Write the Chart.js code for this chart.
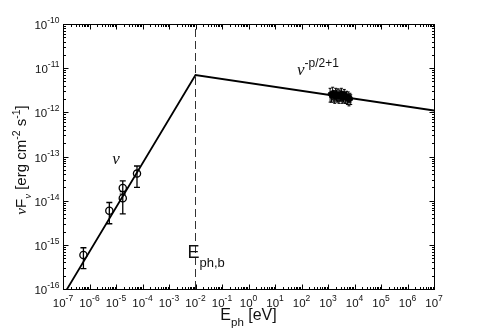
<!DOCTYPE html>
<html><head><meta charset="utf-8">
<script src="https://cdn.jsdelivr.net/npm/chart.js@4/dist/chart.umd.min.js"></script>
<style>html,body{margin:0;padding:0;background:#fff}#wrap{width:480px;height:329px}</style>
</head><body><div id="wrap"><canvas id="c" width="480" height="329"></canvas></div>
<script>
// ---- data ----
const xTickExps = [-7,-6,-5,-4,-3,-2,-1,0,1,2,3,4,5,6,7];
const yTickExps = [-16,-15,-14,-13,-12,-11,-10];
const modelX = [1e-7, 1e-2, 1e7];
const modelY = [7e-17, 7e-12, 1.1e-12];
const breakE = 1e-2;
const radioX  = [5.9e-7, 5.6e-6, 1.8e-5, 1.8e-5, 6.2e-5];
const radioY  = [5.9e-16, 5.9e-15, 1.93e-14, 1.13e-14, 4.1e-14];
const radioLo = [2.9e-16, 3.0e-15, 1.4e-14, 5.0e-15, 2.0e-14];
const radioHi = [8.6e-16, 9.1e-15, 2.8e-14, 1.6e-14, 6.1e-14];
const xrayX  = [1200,1350,1500,1650,1800,1950,2100,2250,2400,2600,2800,3000,3200,3400,3600,3850,4100,4400,4700,5000,5400,5800,6200,6700,7200];
const xrayY  = [2.6,2.3,2.8,2.4,2.2,2.7,2.5,2.3,2.6,2.2,2.5,2.4,2.7,2.1,2.4,2.3,2.6,2.2,2.1,2.4,2.0,2.3,1.9,2.2,2.0].map(v=>v*1e-12);
const xrayErr = [0.9,0.6,0.9,0.7,0.6,0.8,0.7,0.6,0.8,0.6,0.7,0.6,0.8,0.5,0.6,0.6,0.7,0.6,0.5,0.6,0.5,0.6,0.5,0.5,0.5].map(v=>v*1e-12);

const SANS = '"Liberation Sans", Arial, Helvetica, sans-serif';
const SERIF = '"Liberation Serif", "DejaVu Serif", serif';

function drawParts(ctx, parts, x, y, align) {
  // parts: [text, sizePx, dy, fontFamily, style]
  let w = 0;
  for (const p of parts) { ctx.font = (p[4]||'') + ' ' + p[1] + 'px ' + (p[3]||SANS); p.w = ctx.measureText(p[0]).width; w += p.w; }
  let cx = align === 'center' ? x - w/2 : align === 'right' ? x - w : x;
  ctx.textAlign = 'left'; ctx.textBaseline = 'alphabetic';
  for (const p of parts) { ctx.font = (p[4]||'') + ' ' + p[1] + 'px ' + (p[3]||SANS); ctx.fillText(p[0], cx, y + (p[2]||0)); cx += p.w; }
}

const decor = {
  id: 'decor',
  afterDatasetsDraw(chart) {
    const ctx = chart.ctx, xs = chart.scales.x, ys = chart.scales.y, a = chart.chartArea;
    ctx.save();
    ctx.strokeStyle = '#000'; ctx.fillStyle = '#000';
    // error bars
    ctx.lineWidth = 1.3;
    for (let i = 0; i < radioX.length; i++) {
      const px = xs.getPixelForValue(radioX[i]);
      const lo = ys.getPixelForValue(radioLo[i]), hi = ys.getPixelForValue(radioHi[i]);
      ctx.beginPath();
      ctx.moveTo(px, lo); ctx.lineTo(px, hi);
      ctx.moveTo(px-3, lo); ctx.lineTo(px+3, lo);
      ctx.moveTo(px-3, hi); ctx.lineTo(px+3, hi);
      ctx.stroke();
    }
    ctx.lineWidth = 1;
    for (let i = 0; i < xrayX.length; i++) {
      const px = xs.getPixelForValue(xrayX[i]);
      const lo = ys.getPixelForValue(xrayY[i]-xrayErr[i]), hi = ys.getPixelForValue(xrayY[i]+xrayErr[i]);
      ctx.beginPath();
      ctx.moveTo(px, lo); ctx.lineTo(px, hi);
      ctx.moveTo(px-1.5, lo); ctx.lineTo(px+1.5, lo);
      ctx.moveTo(px-1.5, hi); ctx.lineTo(px+1.5, hi);
      ctx.stroke();
    }
    // box
    ctx.lineWidth = 1;
    const L = Math.round(a.left)+0.5, R = Math.round(a.right)+0.5, T = Math.round(a.top)+0.5, B = Math.round(a.bottom)+0.5;
    ctx.strokeRect(L, T, R-L, B-T);
    // ticks
    ctx.beginPath();
    for (const e of xTickExps) {
      const px = Math.round(xs.getPixelForValue(Math.pow(10,e)))+0.5;
      ctx.moveTo(px, B); ctx.lineTo(px, B-5);
      ctx.moveTo(px, T); ctx.lineTo(px, T+5);
      if (e < 7) for (let m = 2; m <= 9; m++) {
        const q = Math.round(xs.getPixelForValue(m*Math.pow(10,e)))+0.5;
        ctx.moveTo(q, B); ctx.lineTo(q, B-2.5);
        ctx.moveTo(q, T); ctx.lineTo(q, T+2.5);
      }
    }
    for (const e of yTickExps) {
      const py = Math.round(ys.getPixelForValue(Math.pow(10,e)))+0.5;
      ctx.moveTo(L, py); ctx.lineTo(L+5, py);
      ctx.moveTo(R, py); ctx.lineTo(R-5, py);
      if (e < -10) for (let m = 2; m <= 9; m++) {
        const q = Math.round(ys.getPixelForValue(m*Math.pow(10,e)))+0.5;
        ctx.moveTo(L, q); ctx.lineTo(L+2.5, q);
        ctx.moveTo(R, q); ctx.lineTo(R-2.5, q);
      }
    }
    ctx.stroke();
    // tick labels
    ctx.fillStyle = '#111';
    for (const e of xTickExps) {
      const px = xs.getPixelForValue(Math.pow(10,e));
      drawParts(ctx, [['10',11.5,0],[String(e),8.5,-6]], px, B+17, 'center');
    }
    for (const e of yTickExps) {
      const py = ys.getPixelForValue(Math.pow(10,e));
      drawParts(ctx, [['10',11.5,0],[String(e),8.5,-6]], L-4, py+5, 'right');
    }
    // axis titles
    drawParts(ctx, [['E',16,0],['ph',11.5,6],[' [eV]',16,0]], (a.left+a.right)/2, 319.5, 'center');
    ctx.save();
    ctx.translate(26, 160);
    ctx.rotate(-Math.PI/2);
    drawParts(ctx, [['\u03BD',15,0,SERIF,'italic'],['F',15,0],['\u03BD',11,5,SERIF,'italic'],[' [erg cm',15,0],['-2',10.5,-6],[' s',15,0],['-1',10.5,-6],[']',15,0]], 0, 0, 'center');
    ctx.restore();
    // annotations
    drawParts(ctx, [['\u03BD',17,0,SERIF,'italic']], xs.getPixelForValue(1e-5), ys.getPixelForValue(6.7e-14), 'center');
    drawParts(ctx, [['\u03BD',17,0,SERIF,'italic'],['-p/2+1',12,-8]], xs.getPixelForValue(68), ys.getPixelForValue(6.9e-12), 'left');
    drawParts(ctx, [['E',18,0],['ph,b',13,9]], xs.getPixelForValue(breakE)-8, ys.getPixelForValue(5.0e-16), 'left');
    ctx.restore();
  }
};

new Chart(document.getElementById('c'), {
  type: 'scatter',
  data: {
    datasets: [
      { type: 'line', data: modelX.map((x,i)=>({x, y: modelY[i]})), borderColor: '#000', borderWidth: 1.8, pointRadius: 0, fill: false, tension: 0 },
      { type: 'line', data: [{x: breakE, y: 1e-16}, {x: breakE, y: 1e-10}], borderColor: '#333', borderWidth: 1, borderDash: [8,4], pointRadius: 0, fill: false },
      { data: radioX.map((x,i)=>({x, y: radioY[i]})), pointRadius: 3.6, pointBorderWidth: 1.3, borderColor: '#000', backgroundColor: 'rgba(0,0,0,0)', pointBackgroundColor: 'rgba(0,0,0,0)' },
      { data: xrayX.map((x,i)=>({x, y: xrayY[i]})), pointRadius: 2, pointBorderWidth: 1, borderColor: '#000', backgroundColor: '#000', pointBackgroundColor: '#000' }
    ]
  },
  options: {
    responsive: false, animation: false, devicePixelRatio: 1,
    layout: { padding: { left: 63, top: 24, right: 46, bottom: 40 } },
    plugins: { legend: { display: false }, tooltip: { enabled: false } },
    scales: {
      x: { type: 'logarithmic', min: 1e-7, max: 1e7, grid: { display: false, drawTicks: false }, border: { display: false }, ticks: { display: false }, title: { display: false } },
      y: { type: 'logarithmic', min: 1e-16, max: 1e-10, grid: { display: false, drawTicks: false }, border: { display: false }, ticks: { display: false }, title: { display: false } }
    }
  },
  plugins: [decor]
});
</script></body></html>
